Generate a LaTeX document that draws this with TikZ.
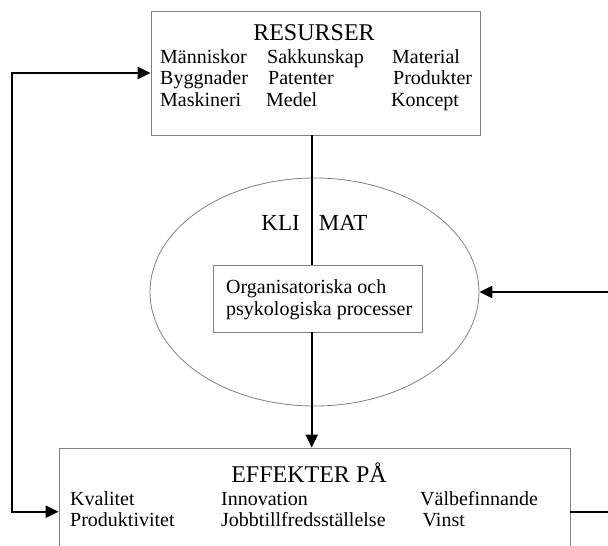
\documentclass[tikz,border=0pt]{standalone}
\usepackage{fontspec}
\setmainfont{Liberation Serif}
\usetikzlibrary{arrows.meta,shapes.geometric}
\begin{document}
\begin{tikzpicture}[x=1pt,y=-1pt,
  frame/.style={draw=black!50, line width=0.8pt, inner sep=0pt},
  item/.style={anchor=base west, inner sep=0pt, font=\fontsize{20}{22}\selectfont},
  title/.style={anchor=base, inner sep=0pt, font=\fontsize{24}{26}\selectfont},
  conn/.style={line width=2.4pt},
  tipend/.style={-{Triangle[length=13pt,width=12pt]}},
  tipboth/.style={{Triangle[length=13pt,width=12pt]}-{Triangle[length=13pt,width=12pt]}}]
\useasboundingbox (0,0) rectangle (608,546);
\clip (0,0) rectangle (608,546);
% top box
\node[frame, minimum width=329pt, minimum height=124pt] (res) at (315.5,73) {};
\node[title] (resT) at (314,40) {RESURSER};
\node[item] (r11) at (160,63) {Människor};
\node[item] (r12) at (267,63) {Sakkunskap};
\node[item] (r13) at (392,63) {Material};
\node[item] (r21) at (160,84.5) {Byggnader};
\node[item] (r22) at (268,84.5) {Patenter};
\node[item] (r23) at (393,84.5) {Produkter};
\node[item] (r31) at (160,106) {Maskineri};
\node[item] (r32) at (266,106) {Medel};
\node[item] (r33) at (391,106) {Koncept};
% ellipse
\node[ellipse, draw=black!50, line width=0.8pt, inner sep=0pt, minimum width=329pt, minimum height=228pt] (ell) at (314.5,292) {};
\node[anchor=base east, inner sep=0pt, font=\fontsize{23}{25}\selectfont] (kli) at (300,230) {KLI};
\node[anchor=base west, inner sep=0pt, font=\fontsize{23}{25}\selectfont] (mat) at (318.6,230) {MAT};
% inner box
\node[frame, fill=white, minimum width=209.4pt, minimum height=67pt] (proc) at (318,298.5) {};
\node[item] (p1) at (226,293) {Organisatoriska och};
\node[item] (p2) at (226,315) {psykologiska processer};
% bottom box
\node[frame, minimum width=511pt, minimum height=112pt] (eff) at (314.5,504) {};
\node[title] (effT) at (309,482.7) {EFFEKTER PÅ};
\node[item] (e11) at (70,505) {Kvalitet};
\node[item] (e12) at (221,505) {Innovation};
\node[item] (e13) at (420,505) {Välbefinnande};
\node[item] (e21) at (70,526) {Produktivitet};
\node[item] (e22) at (221,526) {Jobbtillfredsställelse};
\node[item] (e23) at (422.5,526) {Vinst};
% connectors
\coordinate (lx) at (311.7,0);
\coordinate (loopTop) at (12,73);
\coordinate (loopBot) at (12,511.7);
\coordinate (rightIn) at (608,292);
\coordinate (rightOut) at (608,511.7);
\draw[conn] (res.south -| lx) -- (proc.north -| lx);
\draw[conn, tipend] (proc.south -| lx) -- (eff.north -| lx);
\draw[conn, tipboth] (eff.west |- loopBot) -- (loopBot) -- (loopTop) -- (res.west |- loopTop);
\draw[conn, tipend] (rightIn) -- (ell.east);
\draw[conn] (eff.east |- rightOut) -- (rightOut);
\end{tikzpicture}
\end{document}
